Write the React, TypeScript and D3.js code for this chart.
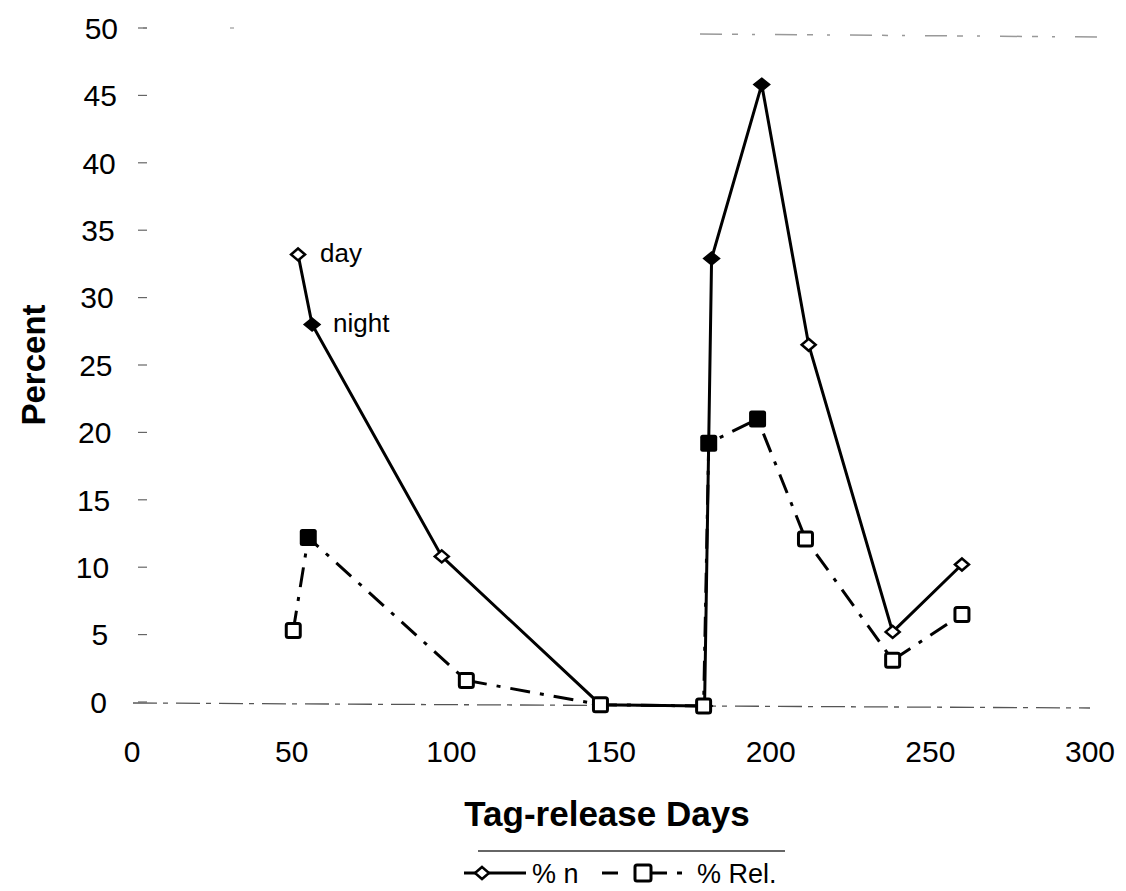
import React from "react";
import * as d3 from "d3";

const xTicks = [0, 50, 100, 150, 200, 250, 300];
const yTicks = [0, 5, 10, 15, 20, 25, 30, 35, 40, 45, 50];

const nDays = [52, 56.4, 97, 146.7, 179.3, 181.5, 197.2, 211.9, 238.2, 259.9];
const nValues = [33.2, 28.0, 10.8, -0.2, -0.3, 32.9, 45.8, 26.5, 5.2, 10.2];
const nFilled = [false, true, false, false, false, true, true, false, false, false];

const relDays = [50.5, 55.2, 104.7, 146.7, 179.0, 180.6, 195.9, 210.9, 238.2, 259.9];
const relValues = [5.3, 12.2, 1.6, -0.2, -0.3, 19.2, 21.0, 12.1, 3.1, 6.5];
const relFilled = [false, true, false, false, false, true, true, false, false, false];

const pointLabels = [
  { text: "day", idx: 0 },
  { text: "night", idx: 1 },
];

const FONT = "'Liberation Sans', Arial, Helvetica, sans-serif";

export default function App() {
  const W = 1126, H = 891;
  const x = d3.scaleLinear().domain([0, 300]).range([132, 1090]);
  const y = d3.scaleLinear().domain([0, 50]).range([702, 28]);

  const nPts: [number, number][] = nDays.map((d, i) => [x(d), y(nValues[i])]);
  const rPts: [number, number][] = relDays.map((d, i) => [x(d), y(relValues[i])]);
  const line = d3.line();

  const diamond = (filled: boolean) =>
    filled ? "M0,-6.5 L8,0 L0,6.5 L-8,0Z" : "M0,-6 L7,0 L0,6 L-7,0Z";

  return (
    <svg width={W} height={H} style={{ position: "absolute", left: 0, top: 0, background: "#fff" }}>
      <rect x={0} y={0} width={W} height={H} fill="#fff" />
      {/* top faint border */}
      <line x1={143} x2={147} y1={y(50)} y2={y(50)} stroke="#999" strokeWidth={1.2} />
      <line x1={230} x2={234} y1={y(50)} y2={y(50)} stroke="#999" strokeWidth={1.2} />
      <line x1={700} x2={1100} y1={y(50) + 6} y2={y(50) + 9} stroke="#999" strokeWidth={1.5} strokeDasharray="22,10,6,14,3,20" />
      {/* zero line */}
      <line x1={133} x2={1090} y1={y(0) + 1} y2={y(0) + 6} stroke="#555" strokeWidth={1.3} strokeDasharray="24,6,5,8" />

      {/* y ticks */}
      {yTicks.map((t) => (
        <g key={"y" + t}>
          <line x1={138} x2={147} y1={y(t)} y2={y(t)} stroke="#666" strokeWidth={1.2} />
          <text x={107 + (t / 50) * 11} y={y(t)} dy="0.36em" textAnchor="end" fontFamily={FONT} fontSize={30} fill="#000">
            {t}
          </text>
        </g>
      ))}

      {/* x tick labels */}
      {xTicks.map((t) => (
        <text key={"x" + t} x={x(t)} y={762} textAnchor="middle" fontFamily={FONT} fontSize={30} fill="#000">
          {t}
        </text>
      ))}

      {/* axis titles */}
      <text
        transform={`translate(45,${y(25)}) rotate(-90)`}
        textAnchor="middle"
        fontFamily={FONT}
        fontWeight="bold"
        fontSize={33}
        fill="#000"
      >
        Percent
      </text>
      <text x={607} y={826} textAnchor="middle" fontFamily={FONT} fontWeight="bold" fontSize={35} fill="#000">
        Tag-release Days
      </text>

      {/* series lines */}
      <path d={line(rPts) || ""} fill="none" stroke="#000" strokeWidth={3} strokeDasharray="20,10,4,10" />
      <path d={line(nPts) || ""} fill="none" stroke="#000" strokeWidth={3} />

      {/* diamonds */}
      {nPts.map((p, i) => (
        <path
          key={"d" + i}
          d={diamond(nFilled[i])}
          transform={`translate(${p[0]},${p[1]})`}
          fill={nFilled[i] ? "#000" : "#fff"}
          stroke="#000"
          strokeWidth={nFilled[i] ? 1.5 : 2.5}
        />
      ))}
      {/* squares */}
      {rPts.map((p, i) =>
        relFilled[i] ? (
          <rect key={"s" + i} x={p[0] - 8.5} y={p[1] - 8.5} width={17} height={17} rx={2.5} fill="#000" />
        ) : (
          <rect key={"s" + i} x={p[0] - 7} y={p[1] - 7} width={14} height={14} rx={2} fill="#fff" stroke="#000" strokeWidth={3} />
        )
      )}

      {/* point labels */}
      {pointLabels.map((l) => (
        <text
          key={l.text}
          x={nPts[l.idx][0] + (l.idx === 0 ? 22 : 21)}
          y={nPts[l.idx][1]}
          dy="0.3em"
          fontFamily={FONT}
          fontSize={26}
          fill="#000"
        >
          {l.text}
        </text>
      ))}

      {/* legend */}
      <line x1={478} x2={785} y1={851} y2={851} stroke="#333" strokeWidth={1.3} />
      <line x1={464} x2={526} y1={873} y2={873} stroke="#000" strokeWidth={3} />
      <path d={diamond(false)} transform="translate(482,873)" fill="#fff" stroke="#000" strokeWidth={2.5} />
      <text x={532} y={873} dy="0.36em" fontFamily={FONT} fontSize={27} fill="#000">
        % n
      </text>
      <line x1={602} x2={618} y1={873} y2={873} stroke="#000" strokeWidth={3} />
      <line x1={650} x2={667} y1={873} y2={873} stroke="#000" strokeWidth={3} />
      <line x1={677} x2={682} y1={873} y2={873} stroke="#000" strokeWidth={3} />
      <rect x={635} y={865} width={16} height={16} rx={2} fill="#fff" stroke="#000" strokeWidth={3} />
      <text x={697} y={873} dy="0.36em" fontFamily={FONT} fontSize={27} fill="#000">
        % Rel.
      </text>
    </svg>
  );
}
